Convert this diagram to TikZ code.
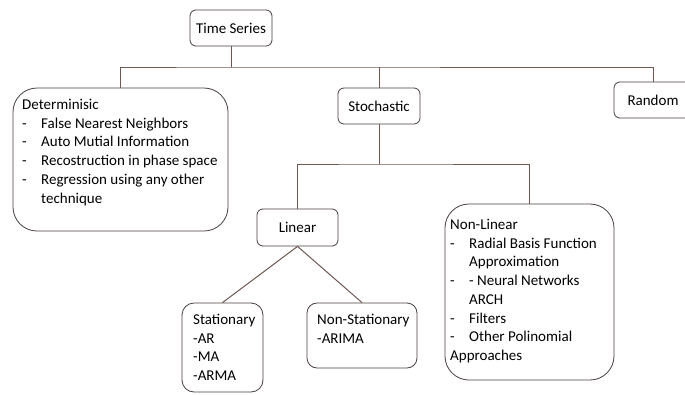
\documentclass[tikz,border=0pt]{standalone}
\usepackage{fontspec}
\setmainfont{Carlito}
\usepackage{xcolor}
\usetikzlibrary{calc}

\definecolor{linkbrown}{RGB}{112,88,82}
\definecolor{boxgray}{RGB}{72,64,62}

\tikzset{
  box/.style={draw=boxgray, line width=0.8pt, fill=white, inner sep=0pt},
  link/.style={draw=linkbrown, line width=1pt},
  txt/.style={inner sep=0pt, align=left, anchor=north west,
    font=\fontsize{15}{18.7}\selectfont}
}
\newcommand{\dashitem}{\makebox[19pt][l]{-}}

\begin{document}
\begin{tikzpicture}[x=1pt,y=-1pt]

% Page
\useasboundingbox (0,0) rectangle (685,394);
\fill[white] (0,0) rectangle (685,394);

% Boxes
\node[box, rounded corners=6pt, minimum width=82pt, minimum height=36pt] (ts) at (231,28) {};
\node[box, rounded corners=24pt, minimum width=215pt, minimum height=143pt] (det) at (120.5,159.5) {};
\node[box, rounded corners=6pt, minimum width=82pt, minimum height=36pt] (stoch) at (379,106) {};
\node[box, rounded corners=6pt, minimum width=78pt, minimum height=36pt] (rnd) at (653,100) {};
\node[box, rounded corners=6pt, minimum width=81pt, minimum height=37pt] (lin) at (297.5,227.5) {};
\node[box, rounded corners=24pt, minimum width=169pt, minimum height=176pt] (nonlin) at (529.5,292) {};
\node[box, rounded corners=12pt, minimum width=81pt, minimum height=89pt] (stat) at (222.5,347.5) {};
\node[box, rounded corners=10pt, minimum width=110pt, minimum height=65pt] (nstat) at (362,335.5) {};

% Junctions
\coordinate (j1) at (231,67);
\coordinate (j2) at (379,164);

% Connectors
\draw[link] (ts.south) -- (j1);
\draw[link] (det.north) |- (j1) -| (rnd.north);
\draw[link] (stoch.north) -- (stoch.north |- j1);
\draw[link] (stoch.south) -- (j2);
\draw[link] (lin.north) |- (j2) -| (nonlin.north);
\draw[link] (lin.south) -- (stat.north);
\draw[link] (lin.south) -- (nstat.north);

% Labels
\node[txt, anchor=center] (tstxt) at (ts.center) {Time Series};
\node[txt, anchor=center] (stochtxt) at (stoch.center) {Stochastic};
\node[txt, anchor=center] (rndtxt) at (rnd.center) {Random};
\node[txt, anchor=center] (lintxt) at (lin.center) {Linear};

\node[txt] (dettxt) at (22,99) {Determinisic\\
  \dashitem False Nearest Neighbors\\
  \dashitem Auto Mutial Information\\
  \dashitem Recostruction in phase space\\
  \dashitem Regression using any other\\
  \hspace*{19pt}technique};

\node[txt] (nonlintxt) at (450,219) {Non-Linear\\
  \dashitem Radial Basis Function\\
  \hspace*{19pt}Approximation\\
  \dashitem - Neural Networks\\
  \hspace*{19pt}ARCH\\
  \dashitem Filters\\
  \dashitem Other Polinomial\\
  Approaches};

\node[txt] (stattxt) at (193,314) {Stationary\\-AR\\-MA\\-ARMA};
\node[txt] (nstattxt) at (317,314) {Non-Stationary\\-ARIMA};

\end{tikzpicture}
\end{document}
